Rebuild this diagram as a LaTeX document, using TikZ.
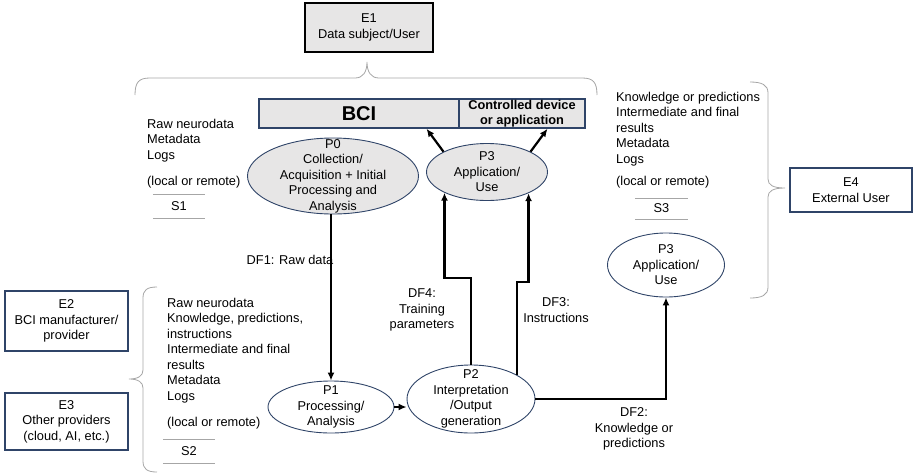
\documentclass[tikz,border=0pt]{standalone}
\usepackage{fontspec}
\setmainfont{Liberation Sans}
\usepackage{xcolor}
\usetikzlibrary{shapes.geometric,arrows.meta,calc}

\definecolor{boxgray}{HTML}{E7E6E6}
\definecolor{navy}{HTML}{2F4468}
\definecolor{bracegray}{HTML}{A6A6A6}

\begin{document}
\begin{tikzpicture}[x=1pt,y=-1pt,
	every node/.style={font=\fontsize{12.8}{15.5}\selectfont, align=center, inner sep=0pt},
	entity/.style={draw=navy, line width=1.8pt, rectangle},
	proc/.style={ellipse, draw=navy, line width=0.9pt, inner sep=-30pt},
	store/.style={anchor=north west, align=left},
	flow/.style={-{Latex[length=8pt,width=7pt]}, line width=2.2pt},
	brc/.style={draw=bracegray, line width=0.8pt},
	sline/.style={draw=gray!70, line width=0.6pt}]

\useasboundingbox (0,0) rectangle (913,475);

% entities
\node[entity, draw=black, line width=2pt, fill=boxgray, minimum width=128pt, minimum height=49pt] (e1) at (369,27.5) {E1\\Data subject/User};
\node[entity, minimum width=123pt, minimum height=60pt] (e2) at (66.5,321) {E2\\BCI manufacturer/\\provider};
\node[entity, minimum width=123pt, minimum height=57pt] (e3) at (66.5,421.5) {E3\\Other providers\\(cloud, AI, etc.)};
\node[entity, minimum width=122pt, minimum height=44pt] (e4) at (851,190) {E4\\External User};

\node[draw=navy, line width=1.5pt, fill=boxgray, minimum width=200pt, minimum height=29pt, font=\fontsize{20}{22}\selectfont\bfseries] (bci) at (359,113.5) {BCI};
\node[draw=navy, line width=1.5pt, fill=boxgray, minimum width=126pt, minimum height=29pt, font=\fontsize{12.8}{14.5}\selectfont\bfseries] (ctrl) at (522,113.5) {Controlled device\\or application};

% processes
\node[proc, fill=boxgray, minimum width=171pt, minimum height=76pt] (p0) at (333,176) {P0\\Collection/\\Acquisition + Initial\\Processing and\\Analysis};
\node[proc, fill=boxgray, minimum width=121pt, minimum height=57pt] (p3a) at (487,172) {P3\\Application/\\Use};
\node[proc, minimum width=126pt, minimum height=52pt] (p1) at (331,407) {P1\\Processing/\\Analysis};
\node[proc, minimum width=128pt, minimum height=68pt] (p2) at (471,399) {P2\\Interpretation\\/Output\\generation};
\node[proc, minimum width=117pt, minimum height=64pt] (p3b) at (666,265) {P3\\Application/\\Use};

% stores
\node[store] (s1list) at (147,119) {Raw neurodata\\Metadata\\Logs\\[11pt](local or remote)};
\node[store] (s2list) at (167,298) {Raw neurodata\\Knowledge, predictions,\\instructions\\Intermediate and final\\results\\Metadata\\Logs\\[11pt](local or remote)};
\node[store] (s3list) at (616,92) {Knowledge or predictions\\Intermediate and final\\results\\Metadata\\Logs\\[7pt](local or remote)};

\node[minimum width=52pt, minimum height=24pt] (s1) at (179,206) {S1};
\node[minimum width=52pt, minimum height=24pt] (s2) at (189,451) {S2};
\node[minimum width=53pt, minimum height=21pt] (s3) at (661.5,208.5) {S3};
\foreach \s in {s1,s2,s3}{
	\draw[sline] (\s.north west) -- (\s.north east);
	\draw[sline] (\s.south west) -- (\s.south east);
}

% braces
\draw[brc] (135,95) .. controls (135,82) and (139,78) .. (150,78) -- (355,78)
	.. controls (363,78) and (367,72) .. (367,62) .. controls (367,72) and (371,78) .. (379,78)
	-- (582,78) .. controls (593,78) and (597,82) .. (597,95);
\draw[brc] (157,287) .. controls (147,287) and (143,290) .. (143,298) -- (143,370)
	.. controls (143,376) and (138,379) .. (129,379) .. controls (138,379) and (143,382) .. (143,388)
	-- (143,461) .. controls (143,469) and (147,472) .. (157,472);
\draw[brc] (750,82) .. controls (762,82) and (768,85) .. (768,93) -- (768,179)
	.. controls (768,185) and (773,188) .. (785,188) .. controls (773,188) and (768,191) .. (768,197)
	-- (768,287) .. controls (768,295) and (762,298) .. (750,298);

% data flows
\draw[flow] (p1.north |- p0.south) -- (p1.north);
\draw[flow] (p1.east) -- (p1.east -| p2.west);
\coordinate (df4bend) at (p3a.206 |- 0,278);
\draw[flow] (p2.north) |- (df4bend) -- (p3a.206);
\coordinate (df3bend) at (p3a.333 |- 0,282);
\draw[flow] (p2.28) |- (df3bend) -- (p3a.333);
\draw[flow] (p2.east) -| (p3b.south);
\draw[flow] (p3a.155) -- ($(p3a.155 |- bci.south)+(-17,0)$);
\draw[flow] (p3a.25) -- ($(p3a.25 |- ctrl.south)+(17,0)$);

\node (df1) at (290,260) {DF1: Raw data};
\node (df4) at (422,310) {DF4:\\Training\\parameters};
\node (df3) at (556,310) {DF3:\\Instructions};
\node (df2) at (634,429) {DF2:\\Knowledge or\\predictions};

\end{tikzpicture}
\end{document}
